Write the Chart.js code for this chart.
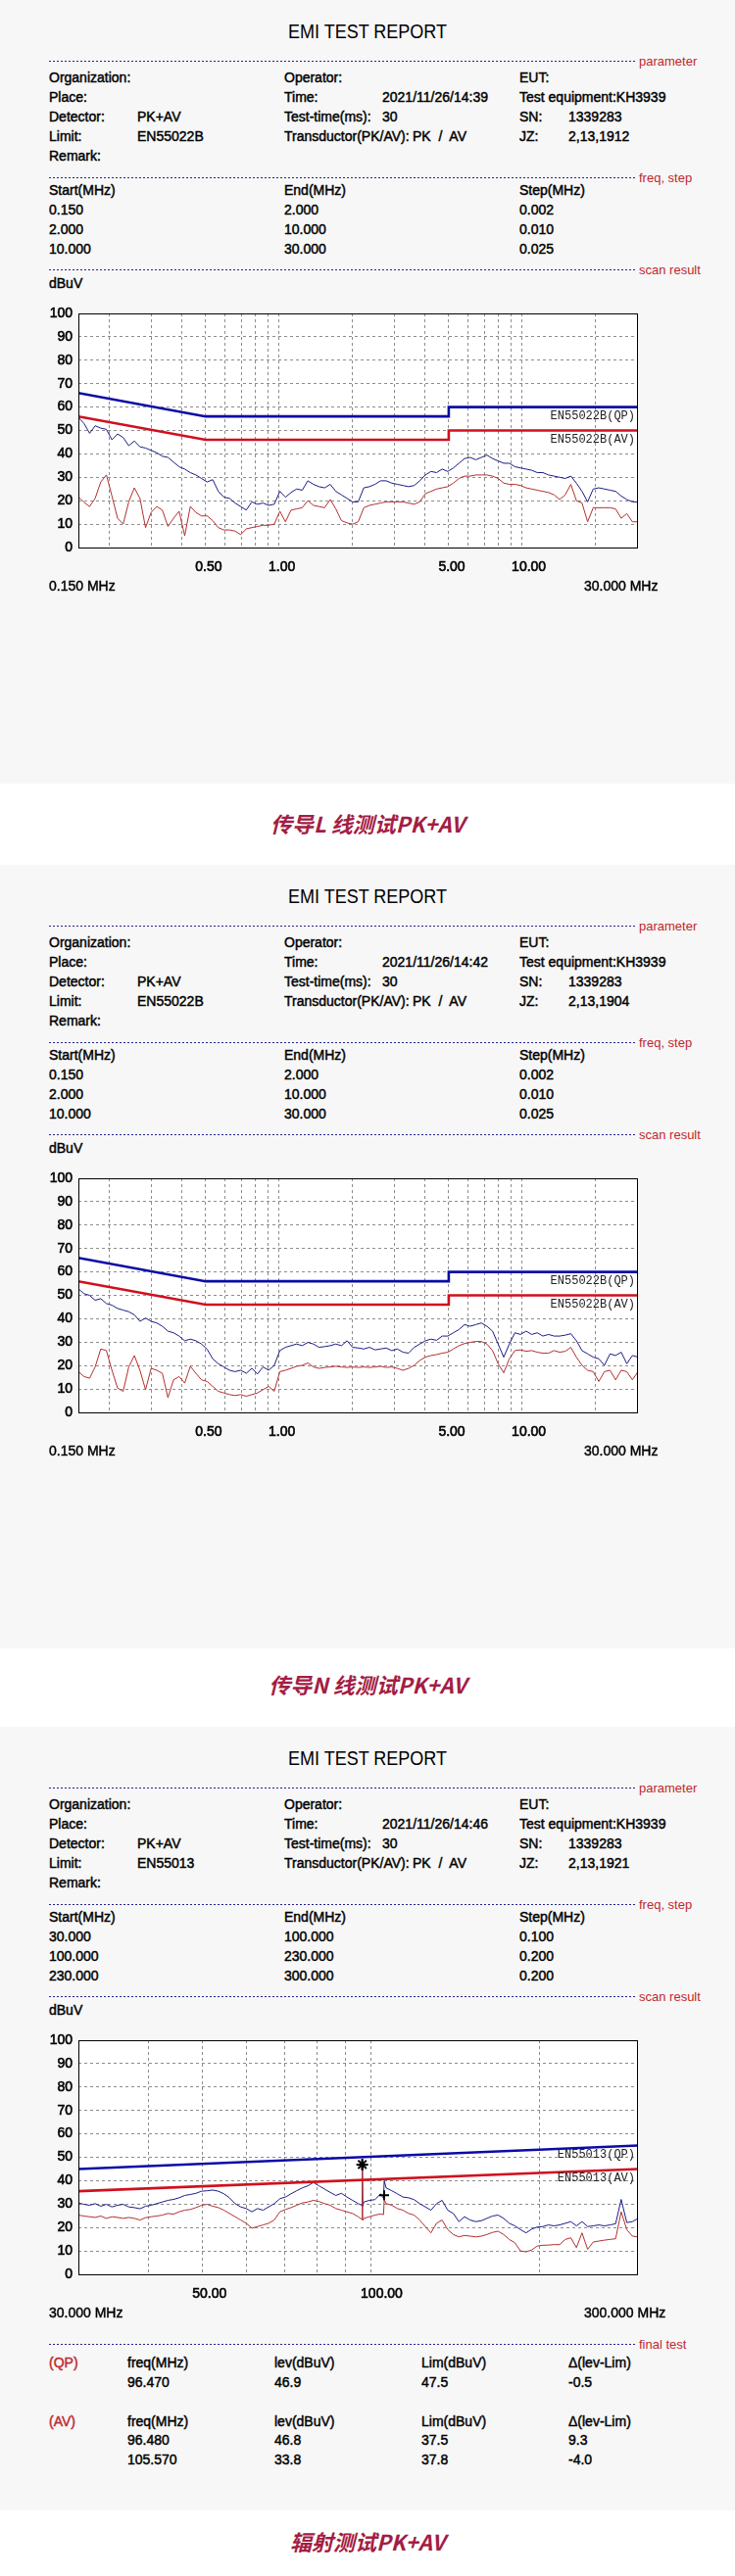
<!DOCTYPE html>
<html>
<head>
<meta charset="utf-8">
<script src="https://cdn.jsdelivr.net/npm/chart.js@4.4.0/dist/chart.umd.min.js"></script>
<style>
body{margin:0;background:#fff;width:750px;height:2630px;position:relative;overflow:hidden;font-family:"Liberation Sans",Arial,sans-serif;}
.panel{position:absolute;left:0;width:750px;height:800px;background:#f7f7f7;}
.t{position:absolute;white-space:pre;font-size:14px;font-weight:normal;-webkit-text-stroke:0.45px #000;line-height:16px;color:#000;}
.sec{position:absolute;white-space:pre;font-size:13px;line-height:16px;color:#c0282d;}
.red{color:#c0282d;-webkit-text-stroke:0.45px #c0282d;}
.dash{position:absolute;left:50px;width:598px;height:1px;background:repeating-linear-gradient(to right,#23238a 0 2px,transparent 2px 4px);}
.head{position:absolute;left:0;width:750px;top:21px;text-align:center;font-size:20px;line-height:22px;}
.head span{display:inline-block;transform:scaleX(0.9);}
.band{position:absolute;left:0;width:750px;text-align:center;font-family:"Noto Sans CJK SC",sans-serif;font-weight:bold;font-style:italic;font-size:22px;line-height:30px;color:#a31d44;}
canvas{position:absolute;left:0;top:300px;}
</style>
</head>
<body>
<script>
// conducted scan, 0.15 - 30 MHz
const freqCond = [
  0.150, 0.1582, 0.1668, 0.1758, 0.1854, 0.1955, 0.2061, 0.2173, 0.2292, 0.2416,
  0.2548, 0.2687, 0.2833, 0.2987, 0.3149, 0.3321, 0.3501, 0.3692, 0.3893, 0.4105,
  0.4328, 0.4564, 0.4812, 0.5074, 0.5350, 0.5641, 0.5948, 0.6272, 0.6613, 0.6973,
  0.7352, 0.7752, 0.8174, 0.8619, 0.9088, 0.9583, 1.0104, 1.0654, 1.1234, 1.1845,
  1.2490, 1.3169, 1.3886, 1.4642, 1.5439, 1.6279, 1.7165, 1.8099, 1.9084, 2.0123,
  2.1218, 2.2373, 2.3590, 2.4874, 2.6228, 2.7655, 2.9160, 3.0747, 3.2421, 3.4185,
  3.6046, 3.8007, 4.0076, 4.2257, 4.4557, 4.6981, 4.9538, 5.2234, 5.5077, 5.8074,
  6.1235, 6.4567, 6.8081, 7.1786, 7.5693, 7.9812, 8.4156, 8.8736, 9.3565, 9.8658,
  10.403, 10.969, 11.566, 12.195, 12.859, 13.559, 14.297, 15.065, 15.885, 16.749,
  17.661, 18.622, 19.635, 20.704, 21.831, 23.019, 24.272, 25.593, 26.986, 28.455,
  30.0
];
const blueL = [
  55.6, 53.0, 48.8, 52.0, 51.0, 50.5, 46.0, 48.5, 47.0, 43.5,
  45.5, 43.0, 42.5, 41.5, 40.5, 39.0, 38.5, 36.5, 34.5, 33.5,
  32.0, 31.0, 29.5, 28.0, 29.0, 24.0, 21.5, 21.0, 19.0, 17.5,
  16.0, 19.5, 18.5, 19.0, 18.0, 18.5, 24.0, 21.5, 23.5, 25.0,
  24.5, 28.5, 27.0, 26.0, 25.5, 27.0, 24.0, 22.5, 21.0, 19.5,
  19.5, 25.5, 26.0, 27.0, 28.5, 28.5, 27.5, 27.0, 26.5, 26.0,
  26.5, 28.5, 31.0, 32.5, 32.0, 33.5, 32.5, 34.0, 36.0, 38.0,
  38.5, 37.5, 38.5, 39.5, 38.0, 37.0, 36.0, 36.0, 34.5, 34.0,
  33.5, 33.0, 32.0, 32.0, 31.0, 30.5, 30.0, 29.5, 30.5, 27.5,
  24.0, 19.5, 25.0, 25.5, 25.0, 24.5, 24.0, 22.0, 20.5, 19.5,
  19.5
];
const redL = [
  21.6, 19.3, 17.5, 21.0, 28.0, 31.0, 22.0, 12.5, 10.0, 19.5,
  25.5, 21.0, 8.5, 15.0, 17.5, 16.0, 9.0, 12.5, 15.5, 5.0,
  17.5, 15.0, 13.5, 13.5, 11.5, 8.5, 7.5, 7.5, 7.0, 5.5,
  8.0, 8.5, 9.0, 9.5, 9.5, 10.0, 15.5, 11.0, 16.0, 16.5,
  17.0, 20.0, 18.0, 17.5, 17.0, 20.5, 16.5, 11.5, 10.5, 10.0,
  11.0, 17.0, 18.0, 18.5, 19.0, 19.5, 19.5, 19.5, 19.5, 19.0,
  18.5, 19.5, 23.0, 24.0, 25.0, 25.5, 26.0, 27.5, 29.5, 30.5,
  30.5, 31.0, 31.0, 31.0, 30.5, 29.5, 27.5, 27.0, 27.0, 26.5,
  25.5, 25.0, 24.5, 24.0, 23.5, 22.5, 20.5, 22.5, 27.0, 20.0,
  19.0, 11.0, 17.0, 17.0, 17.0, 17.0, 16.5, 12.5, 14.5, 11.0,
  11.0
];
const blueN = [
  52.8, 50.7, 50.0, 47.9, 48.6, 46.5, 45.8, 44.4, 43.7, 43.0,
  41.7, 38.9, 40.3, 38.9, 38.2, 36.8, 34.7, 34.0, 32.6, 30.6,
  31.3, 30.6, 29.2, 27.0, 22.9, 20.8, 19.4, 18.0, 17.4, 18.0,
  16.7, 18.8, 16.4, 19.4, 18.0, 20.1, 26.4, 27.8, 28.5, 29.2,
  28.5, 29.9, 29.2, 27.8, 28.1, 28.5, 29.2, 28.5, 30.6, 27.8,
  27.5, 27.1, 27.8, 26.7, 27.1, 27.5, 26.4, 27.1, 25.7, 25.3,
  27.8, 29.2, 30.6, 31.3, 30.8, 32.6, 32.6, 34.0, 35.4, 37.5,
  36.8, 37.5, 38.2, 36.8, 34.7, 29.2, 23.6, 29.2, 34.0, 33.3,
  34.7, 33.3, 34.0, 32.6, 33.3, 32.6, 32.6, 33.0, 33.6, 30.6,
  26.4, 25.0, 23.6, 22.9, 20.1, 25.0, 24.3, 25.7, 20.8, 24.3,
  23.6
];
const redN = [
  17.4, 15.3, 14.6, 19.4, 27.1, 26.4, 18.0, 10.4, 9.0, 19.4,
  24.3, 18.0, 9.7, 18.8, 18.0, 16.7, 6.3, 13.9, 15.3, 12.5,
  19.7, 16.7, 13.9, 13.2, 11.1, 9.0, 8.3, 7.6, 7.2, 7.6,
  6.9, 7.6, 8.3, 9.7, 11.1, 9.0, 17.4, 18.0, 18.8, 19.7,
  20.1, 21.1, 19.4, 18.8, 19.2, 19.4, 19.7, 19.4, 19.2, 19.4,
  19.2, 19.4, 19.2, 19.4, 19.7, 19.2, 19.4, 18.8, 18.0, 18.8,
  20.1, 22.2, 23.6, 24.3, 24.7, 25.3, 25.7, 27.1, 28.5, 29.4,
  29.9, 30.3, 30.3, 29.2, 26.4, 20.8, 16.9, 22.9, 26.4, 26.7,
  26.1, 26.4, 25.7, 25.3, 25.3, 26.4, 25.7, 26.1, 27.8, 23.6,
  20.1, 18.0, 17.4, 13.2, 17.4, 18.0, 13.9, 18.0, 17.4, 13.9,
  17.4
];

// radiated scan, 30 - 300 MHz
const freqRad = [
  30.00, 30.70, 31.41, 32.15, 32.90, 33.66, 34.45, 35.25, 36.07, 36.91,
  37.77, 38.65, 39.55, 40.47, 41.41, 42.38, 43.36, 44.37, 45.41, 46.46,
  47.55, 48.65, 49.79, 50.95, 52.13, 53.35, 54.59, 55.86, 57.17, 58.49,
  59.86, 61.25, 62.68, 64.14, 65.63, 67.16, 68.73, 70.33, 71.96, 73.64,
  75.36, 77.11, 78.91, 80.75, 82.63, 84.55, 86.52, 88.54, 90.60, 92.71,
  94.87, 96.30, 96.47, 96.65, 97.08, 99.34, 101.65, 104.02, 105.30, 105.60,
  106.44, 108.92, 111.46, 114.06, 116.72, 119.43, 122.21, 125.06, 127.97, 130.96,
  134.00, 137.13, 140.32, 143.59, 146.93, 150.36, 153.86, 157.44, 161.11, 164.86,
  168.70, 172.63, 176.65, 180.77, 184.98, 189.29, 193.70, 198.21, 202.82, 207.55,
  212.39, 217.33, 222.39, 227.57, 232.88, 238.30, 243.85, 249.53, 255.34, 261.29,
  267.38, 273.60, 279.98, 286.50, 293.17, 300.00
];
const blueR = [
  30.5, 29.9, 29.5, 30.2, 29.1, 29.9, 28.8, 29.5, 29.9, 28.8,
  28.5, 28.0, 29.1, 29.5, 30.2, 30.9, 31.6, 32.0, 32.7, 33.7,
  34.1, 34.6, 35.5, 35.7, 36.0, 35.5, 34.4, 32.7, 30.2, 28.8,
  28.1, 26.7, 28.1, 27.4, 28.8, 30.2, 32.3, 33.0, 34.4, 35.7,
  36.9, 37.8, 39.2, 37.8, 36.4, 35.0, 33.7, 34.6, 33.0, 31.6,
  30.2, 29.5, 46.5, 29.0, 30.9, 31.6, 31.9, 34.4, 32.5, 39.9,
  36.9, 35.7, 34.4, 33.0, 32.7, 31.9, 30.2, 28.8, 27.4, 30.2,
  31.6, 27.4, 26.0, 22.5, 24.6, 23.2, 22.5, 22.9, 23.9, 24.9,
  25.3, 23.9, 21.8, 20.7, 19.1, 17.7, 19.3, 20.2, 20.4, 21.1,
  20.7, 21.1, 21.8, 22.5, 20.7, 22.5, 20.4, 20.7, 21.1, 20.7,
  21.1, 21.6, 32.0, 22.1, 22.5, 23.9
];
const redR = [
  25.3, 24.9, 24.6, 24.3, 24.9, 23.9, 24.6, 24.3, 23.9, 24.3,
  23.9, 23.2, 24.2, 24.6, 24.9, 25.3, 26.0, 25.7, 26.7, 27.4,
  27.7, 28.5, 29.5, 29.9, 29.1, 28.5, 27.4, 26.0, 24.6, 23.2,
  21.8, 19.7, 20.4, 21.1, 21.8, 23.2, 26.7, 27.7, 28.5, 29.5,
  30.5, 30.9, 31.6, 31.1, 30.2, 29.5, 28.1, 27.4, 26.7, 26.0,
  24.6, 23.5, 46.0, 23.0, 23.9, 24.6, 25.3, 25.8, 25.5, 31.8,
  30.2, 29.5, 28.1, 27.4, 26.0, 25.3, 23.2, 20.4, 17.7, 21.8,
  23.2, 19.1, 17.0, 16.0, 16.6, 16.3, 16.0, 16.3, 17.0, 17.9,
  18.4, 17.0, 14.9, 13.5, 10.0, 9.6, 10.4, 12.1, 12.4, 12.5,
  12.7, 12.7, 14.9, 15.6, 11.4, 17.7, 10.7, 13.8, 14.2, 14.6,
  14.9, 15.2, 26.7, 19.1, 16.3, 16.0
];

// limit lines
const limCondFreq = [0.15, 0.5, 5, 5, 30];
const limCondQP = [66, 56, 56, 60, 60];
const limCondAV = [56, 46, 46, 50, 50];
const limRadFreq = [30, 300];
const limRadQP = [45, 55];
const limRadAV = [35.5, 45];

// axes
const gridCond = [0.2, 0.3, 0.4, 0.5, 0.6, 0.7, 0.8, 0.9, 1, 2, 3, 4, 5, 6, 7, 8, 9, 10, 20];
const tickValsCond = [0.5, 1, 5, 10];
const tickTextCond = ['0.50', '1.00', '5.00', '10.00'];
const gridRad = [40, 50, 60, 70, 80, 90, 100, 200];
const tickValsRad = [50, 100];
const tickTextRad = ['50.00', '100.00'];

// final test
const qpFreq = [96.470];
const qpLev = [46.9];
const qpLim = [47.5];
const qpDelta = [-0.5];
const avFreq = [96.480, 105.570];
const avLev = [46.8, 33.8];
const avLim = [37.5, 37.8];
const avDelta = [9.3, -4.0];

Chart.defaults.font.family = '"Liberation Sans", Arial, sans-serif';

function put(parent, x, y, text, cls) {
  const d = document.createElement('div');
  d.className = cls || 't';
  d.style.left = x + 'px';
  d.style.top = (y - 8) + 'px';
  d.textContent = text;
  parent.appendChild(d);
  return d;
}

function dashLine(parent, y, label) {
  const d = document.createElement('div');
  d.className = 'dash';
  d.style.top = y + 'px';
  parent.appendChild(d);
  put(parent, 652, y + 1, label, 'sec');
}

function pts(xs, ys) {
  return xs.map((x, i) => ({x: x, y: ys[i]}));
}

const framePlugin = {
  id: 'frame',
  beforeDraw(chart) {
    const {ctx, chartArea: a} = chart;
    ctx.save();
    ctx.fillStyle = '#fff';
    ctx.fillRect(a.left, a.top, a.right - a.left, a.bottom - a.top);
    ctx.restore();
  },
  afterDraw(chart, args, opts) {
    const {ctx, chartArea: a} = chart;
    const y = chart.scales.y;
    ctx.save();
    ctx.font = '12px "Liberation Mono", monospace';
    ctx.fillStyle = '#222';
    ctx.textAlign = 'right';
    ctx.textBaseline = 'middle';
    ctx.fillText(opts.qpName, a.right - 3, y.getPixelForValue(opts.qpVal) + 9);
    ctx.fillText(opts.avName, a.right - 3, y.getPixelForValue(opts.avVal) + 9);
    ctx.strokeStyle = '#000';
    ctx.lineWidth = 1;
    ctx.strokeRect(Math.round(a.left) + 0.5, Math.round(a.top) + 0.5,
      Math.round(a.right - a.left) - 1, Math.round(a.bottom - a.top));
    ctx.restore();
  }
};

function makeChart(canvas, c) {
  const tickFont = {size: 14};
  const datasets = [];
  if (c.markers) {
    datasets.push({type: 'scatter', data: pts(qpFreq, qpLev), pointStyle: 'star', pointRadius: 6,
      borderColor: '#000', backgroundColor: '#000', pointBorderWidth: 2});
    datasets.push({type: 'scatter', data: pts(avFreq, avLev), pointStyle: 'cross', pointRadius: 5,
      borderColor: '#000', backgroundColor: '#000', pointBorderWidth: 2});
  }
  datasets.push({data: pts(c.limFreq, c.limQP), borderColor: '#0b0ba6', borderWidth: 2.6});
  datasets.push({data: pts(c.limFreq, c.limAV), borderColor: '#d0101e', borderWidth: 2.6});
  // first in the list is drawn on top: AV trace over PK trace
  datasets.push({data: pts(c.freq, c.av), borderColor: '#b33030', borderWidth: 1});
  datasets.push({data: pts(c.freq, c.pk), borderColor: '#1c1c86', borderWidth: 1});

  return new Chart(canvas, {
    type: 'line',
    data: {datasets: datasets},
    options: {
      responsive: false,
      animation: false,
      elements: {point: {radius: 0}, line: {tension: 0}},
      layout: {padding: {left: 0, right: 49, top: 20, bottom: 0}},
      plugins: {
        legend: {display: false},
        tooltip: {enabled: false},
        frame: {qpName: c.qpName, avName: c.avName,
          qpVal: c.limQP[c.limQP.length - 1], avVal: c.limAV[c.limAV.length - 1]}
      },
      scales: {
        x: {
          type: 'logarithmic',
          min: c.min, max: c.max,
          afterBuildTicks(s) { s.ticks = c.grid.map(v => ({value: v})); },
          afterFit(s) { s.height = 41; },
          ticks: {
            autoSkip: false, maxRotation: 0, minRotation: 0,
            align: 'start', labelOffset: -10.5, padding: 12,
            color: '#000', font: tickFont, textStrokeColor: '#000', textStrokeWidth: 0.6,
            callback(v) {
              const i = c.tickVals.indexOf(v);
              return i >= 0 ? c.tickText[i] : '';
            }
          },
          grid: {color: '#8c8c8c', drawTicks: false},
          border: {display: false, dash: [3, 3]}
        },
        y: {
          min: 0, max: 100,
          afterFit(s) { s.width = 80; },
          ticks: {stepSize: 10, padding: 6, color: '#000', font: tickFont,
            textStrokeColor: '#000', textStrokeWidth: 0.6},
          grid: {color: '#8c8c8c', drawTicks: false},
          border: {display: false, dash: [3, 3]}
        }
      }
    },
    plugins: [framePlugin]
  });
}

function makeReport(top, info) {
  const p = document.createElement('div');
  p.className = 'panel';
  p.style.top = top + 'px';
  document.body.appendChild(p);

  const h = document.createElement('div');
  h.className = 'head';
  h.innerHTML = '<span>EMI TEST REPORT</span>';
  p.appendChild(h);

  dashLine(p, 62, 'parameter');
  put(p, 50, 79, 'Organization:');
  put(p, 290, 79, 'Operator:');
  put(p, 530, 79, 'EUT:');
  put(p, 50, 99, 'Place:');
  put(p, 290, 99, 'Time:');
  put(p, 390, 99, info.time);
  put(p, 530, 99, 'Test equipment:KH3939');
  put(p, 50, 119, 'Detector:');
  put(p, 140, 119, 'PK+AV');
  put(p, 290, 119, 'Test-time(ms):');
  put(p, 390, 119, '30');
  put(p, 530, 119, 'SN:');
  put(p, 580, 119, '1339283');
  put(p, 50, 139, 'Limit:');
  put(p, 140, 139, info.limit);
  put(p, 290, 139, 'Transductor(PK/AV):');
  put(p, 421, 139, 'PK  /  AV');
  put(p, 530, 139, 'JZ:');
  put(p, 580, 139, info.jz);
  put(p, 50, 159, 'Remark:');

  dashLine(p, 181, 'freq, step');
  put(p, 50, 194, 'Start(MHz)');
  put(p, 290, 194, 'End(MHz)');
  put(p, 530, 194, 'Step(MHz)');
  info.steps.forEach((r, i) => {
    put(p, 50, 214 + 20 * i, r[0]);
    put(p, 290, 214 + 20 * i, r[1]);
    put(p, 530, 214 + 20 * i, r[2]);
  });

  dashLine(p, 275, 'scan result');
  put(p, 50, 289, 'dBuV');

  const cv = document.createElement('canvas');
  cv.width = 700;
  cv.height = 300;
  p.appendChild(cv);
  makeChart(cv, info.chart);

  put(p, 50, 598, info.minLabel);
  put(p, 596, 598, info.maxLabel);
  return p;
}

function band(y, text) {
  const d = document.createElement('div');
  d.className = 'band';
  d.style.top = (y - 15) + 'px';
  d.textContent = text;
  document.body.appendChild(d);
}

const condSteps = [['0.150', '2.000', '0.002'], ['2.000', '10.000', '0.010'], ['10.000', '30.000', '0.025']];

makeReport(0, {
  time: '2021/11/26/14:39', limit: 'EN55022B', jz: '2,13,1912', steps: condSteps,
  minLabel: '0.150 MHz', maxLabel: '30.000 MHz',
  chart: {freq: freqCond, pk: blueL, av: redL, limFreq: limCondFreq, limQP: limCondQP, limAV: limCondAV,
    min: 0.15, max: 30, grid: gridCond, tickVals: tickValsCond, tickText: tickTextCond,
    qpName: 'EN55022B(QP)', avName: 'EN55022B(AV)'}
});
band(840, '传导L 线测试PK+AV');

makeReport(883, {
  time: '2021/11/26/14:42', limit: 'EN55022B', jz: '2,13,1904', steps: condSteps,
  minLabel: '0.150 MHz', maxLabel: '30.000 MHz',
  chart: {freq: freqCond, pk: blueN, av: redN, limFreq: limCondFreq, limQP: limCondQP, limAV: limCondAV,
    min: 0.15, max: 30, grid: gridCond, tickVals: tickValsCond, tickText: tickTextCond,
    qpName: 'EN55022B(QP)', avName: 'EN55022B(AV)'}
});
band(1719, '传导N 线测试PK+AV');

const p3 = makeReport(1763, {
  time: '2021/11/26/14:46', limit: 'EN55013', jz: '2,13,1921',
  steps: [['30.000', '100.000', '0.100'], ['100.000', '230.000', '0.200'], ['230.000', '300.000', '0.200']],
  minLabel: '30.000 MHz', maxLabel: '300.000 MHz',
  chart: {freq: freqRad, pk: blueR, av: redR, limFreq: limRadFreq, limQP: limRadQP, limAV: limRadAV,
    min: 30, max: 300, grid: gridRad, tickVals: tickValsRad, tickText: tickTextRad,
    qpName: 'EN55013(QP)', avName: 'EN55013(AV)', markers: true}
});

dashLine(p3, 630, 'final test');
function tableHead(y, tag) {
  put(p3, 50, y, tag, 't red');
  put(p3, 130, y, 'freq(MHz)');
  put(p3, 280, y, 'lev(dBuV)');
  put(p3, 430, y, 'Lim(dBuV)');
  put(p3, 580, y, '\u0394(lev-Lim)');
}
tableHead(649, '(QP)');
qpFreq.forEach((f, i) => {
  const y = 669 + 20 * i;
  put(p3, 130, y, f.toFixed(3));
  put(p3, 280, y, qpLev[i].toFixed(1));
  put(p3, 430, y, qpLim[i].toFixed(1));
  put(p3, 580, y, qpDelta[i].toFixed(1));
});
tableHead(709, '(AV)');
avFreq.forEach((f, i) => {
  const y = 728 + 20 * i;
  put(p3, 130, y, f.toFixed(3));
  put(p3, 280, y, avLev[i].toFixed(1));
  put(p3, 430, y, avLim[i].toFixed(1));
  put(p3, 580, y, avDelta[i].toFixed(1));
});
band(2594, '辐射测试PK+AV');
</script>
</body>
</html>
